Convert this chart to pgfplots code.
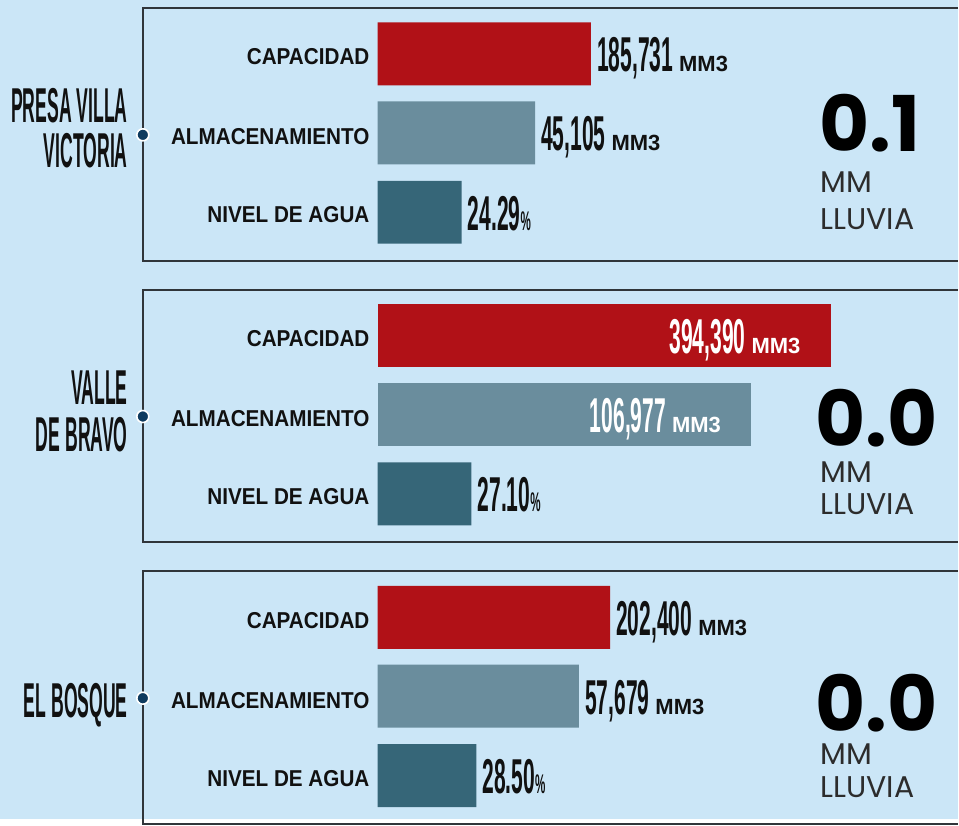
\documentclass[border=0pt]{standalone}
\usepackage{pgfplots}
\pgfplotsset{compat=1.18}
\usepackage{pgfplotstable}
\usepackage{fontspec}
\setmainfont{Liberation Sans}
\newfontfamily\condfont[FakeStretch=0.43]{Liberation Sans}
\newfontfamily\namefont[FakeStretch=0.36]{Liberation Sans}
\newfontfamily\labfont[FakeStretch=0.9]{Liberation Sans}
\newfontfamily\unitfam{Liberation Sans}
\newfontfamily\popfont{Poppins}

\definecolor{bg}{HTML}{CBE6F7}
\definecolor{capred}{HTML}{B11117}
\definecolor{almcol}{HTML}{6A8D9D}
\definecolor{nivcol}{HTML}{366678}
\definecolor{framecol}{HTML}{30353A}
\definecolor{bulletcol}{HTML}{0F3B5F}
\definecolor{txt}{HTML}{111111}
\definecolor{lighttxt}{HTML}{2C2C2C}

\newcommand\numf{\condfont\bfseries\fontsize{49}{49}\selectfont}
\newcommand\unitf{\unitfam\bfseries\fontsize{22}{22}\selectfont}
\newcommand\pctf{\condfont\fontsize{27}{27}\selectfont}
\newcommand\labf{\labfont\bfseries\fontsize{23}{23}\selectfont}
\newcommand\bignum{\pgfmathprintnumber[fixed,precision=0,1000 sep={,},assume math mode=true]{\pgfplotspointmeta}\hspace{6pt}{\unitf MM3}}

% p: panel index (0 = Presa Villa Victoria, 1 = Valle de Bravo, 2 = El Bosque)
\pgfplotstableread{
p cap alm niv
0 185731 45105 24.29
1 394390 106977 27.10
2 202400 57679 28.50
}\datatable

\begin{document}
\begin{tikzpicture}
\begin{axis}[
  x=1pt, y=1pt,
  xmin=-378, xmax=581, ymin=0, ymax=820,
  hide axis, clip=false,
  xbar, bar width=63, bar shift=0pt,
  point meta=explicit,
  every node near coord/.append style={text=txt, font=\numf, inner sep=0pt},
  outlab/.style={nodes near coords={#1}, every node near coord/.append style={anchor=base west, xshift=6pt, yshift=-18pt}},
  inlab/.style={nodes near coords={#1}, every node near coord/.append style={anchor=base east, xshift=-30pt, yshift=-18pt, text=white}},
]
% background
\fill[bg] (axis cs:-378,0) rectangle (axis cs:581,820);

% panel frames, row labels, bullets
\pgfplotsinvokeforeach{8,290,572}{
  \draw[framecol, line width=2.2pt]
    (axis cs:581,{820-#1}) -- (axis cs:-235,{820-#1}) -- (axis cs:-235,{820-#1-253}) -- (axis cs:581,{820-#1-253});
  \node[anchor=base east, text=txt, font=\labf, inner sep=0pt] at (axis cs:-8,{820-#1-57}) {CAPACIDAD};
  \node[anchor=base east, text=txt, font=\labf, inner sep=0pt] at (axis cs:-8,{820-#1-137}) {ALMACENAMIENTO};
  \node[anchor=base east, text=txt, font=\labf, inner sep=0pt] at (axis cs:-8,{820-#1-215}) {NIVEL DE AGUA};
  \draw[white, line width=1.6pt, fill=bulletcol] (axis cs:-235,{820-#1-127}) circle[radius=6pt];
}

% CAPACIDAD (rows 0 and 2 labelled outside, row 1 inside)
\addplot[fill=capred, draw=none, outlab=\bignum, skip coords between index={1}{2}]
  table[x expr={\thisrow{cap}*0.00115}, y expr={766-282*\thisrow{p}}, meta=cap] {\datatable};
\addplot[fill=capred, draw=none, inlab=\bignum, skip coords between index={0}{1}, skip coords between index={2}{3}]
  table[x expr={\thisrow{cap}*0.00115}, y expr={766-282*\thisrow{p}}, meta=cap] {\datatable};

% ALMACENAMIENTO
\addplot[fill=almcol, draw=none, outlab=\bignum, skip coords between index={1}{2}]
  table[x expr={\thisrow{alm}*0.003495}, y expr={687-282*\thisrow{p}}, meta=alm] {\datatable};
\addplot[fill=almcol, draw=none, inlab=\bignum, skip coords between index={0}{1}, skip coords between index={2}{3}]
  table[x expr={\thisrow{alm}*0.003495}, y expr={687-282*\thisrow{p}}, meta=alm] {\datatable};

% NIVEL DE AGUA
\addplot[fill=nivcol, draw=none,
  outlab={\pgfmathprintnumber[fixed,fixed zerofill,precision=2,assume math mode=true]{\pgfplotspointmeta}{\pctf\%}}]
  table[x expr={\thisrow{niv}*3.468}, y expr={607.5-282*\thisrow{p}}, meta=niv] {\datatable};

% reservoir names
\node[anchor=base east, text=txt, inner sep=0pt, font=\namefont\bfseries\fontsize{49}{49}\selectfont] at (axis cs:-250,697) {PRESA VILLA};
\node[anchor=base east, text=txt, inner sep=0pt, font=\namefont\bfseries\fontsize{49}{49}\selectfont] at (axis cs:-250,652) {VICTORIA};
\node[anchor=base east, text=txt, inner sep=0pt, font=\namefont\bfseries\fontsize{49}{49}\selectfont] at (axis cs:-250,415) {VALLE};
\node[anchor=base east, text=txt, inner sep=0pt, font=\namefont\bfseries\fontsize{49}{49}\selectfont] at (axis cs:-250,368) {DE BRAVO};
\node[anchor=base east, text=txt, inner sep=0pt, font=\namefont\bfseries\fontsize{49}{49}\selectfont] at (axis cs:-250,102) {EL BOSQUE};

% rainfall
\tikzset{rv/.style={anchor=base west, text=black, inner sep=0pt, text depth=0pt, font=\popfont\bfseries\fontsize{77}{77}\selectfont},
         rl/.style={anchor=base west, text=lighttxt, inner sep=0pt, text depth=0pt, font=\popfont\fontsize{30}{30}\selectfont}}
\node[rv] at (axis cs:442,668) {0.1};
\node[rl] at (axis cs:443,627) {MM};
\node[rl] at (axis cs:443,590) {LLUVIA};
\node[rv] at (axis cs:438,373) {0.0};
\node[rl] at (axis cs:443,337) {MM};
\node[rl] at (axis cs:443,305) {LLUVIA};
\node[rv] at (axis cs:438,88) {0.0};
\node[rl] at (axis cs:443,55) {MM};
\node[rl] at (axis cs:443,22) {LLUVIA};
\end{axis}
\end{tikzpicture}
\end{document}
